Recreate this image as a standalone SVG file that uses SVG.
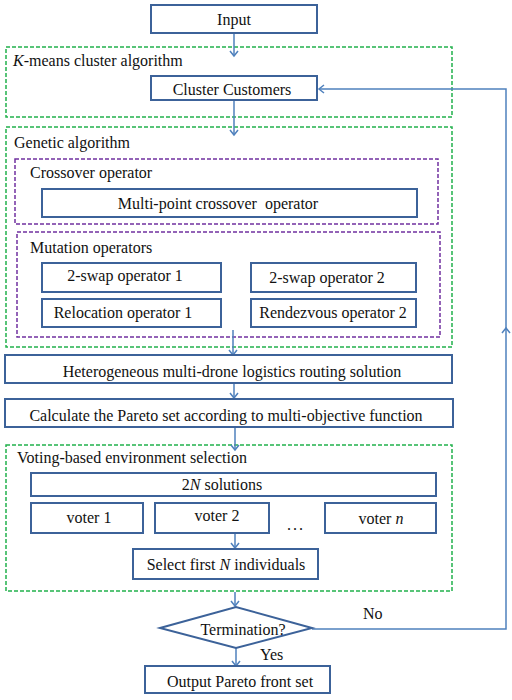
<svg xmlns="http://www.w3.org/2000/svg" width="512" height="700" viewBox="0 0 512 700" font-family="Liberation Serif, DejaVu Serif, serif" font-size="16">
<defs>
<marker id="ah" markerWidth="10" markerHeight="10" refX="6" refY="5" orient="auto" markerUnits="userSpaceOnUse">
<path d="M1,1 L6,5 L1,9" fill="none" stroke="#4F81BD" stroke-width="1.5"/>
</marker>
</defs>
<style>
.box{fill:#fff;stroke:#3C6299;stroke-width:2}
.grp{fill:none;stroke:#22B14C;stroke-width:1.5;stroke-dasharray:4 2}
.pgrp{fill:none;stroke:#7030A0;stroke-width:1.5;stroke-dasharray:4 2}
text{fill:#111}
.c{text-anchor:middle}
.con{fill:none;stroke:#4F81BD;stroke-width:1.5}
</style>
<rect width="512" height="700" fill="#fff"/>
<g id="groups">
<g id="kmeans"><rect class="grp" x="6" y="47" width="446" height="70"/><text x="13" y="66"><tspan font-style="italic">K</tspan>-means cluster algorithm</text></g>
<g id="genetic"><rect class="grp" x="6" y="127" width="446" height="220"/><text x="14" y="148">Genetic algorithm</text></g>
<g id="crossover"><rect class="pgrp" x="15" y="159" width="423" height="65"/><text x="30" y="178">Crossover operator</text></g>
<g id="mutation"><rect class="pgrp" x="17" y="232" width="423" height="105"/><text x="30" y="253">Mutation operators</text></g>
<g id="voting"><rect class="grp" x="6" y="445" width="446" height="146"/><text x="17" y="463">Voting-based environment selection</text></g>
</g>
<g id="connectors">
<line class="con" x1="234" y1="33" x2="234" y2="56" marker-end="url(#ah)"/>
<line class="con" x1="234" y1="100" x2="234" y2="135" marker-end="url(#ah)"/>
<line class="con" x1="233" y1="330" x2="233" y2="355" marker-end="url(#ah)"/>
<line class="con" x1="234" y1="376" x2="234" y2="398" marker-end="url(#ah)"/>
<line class="con" x1="235" y1="420" x2="235" y2="450" marker-end="url(#ah)"/>
<line class="con" x1="235" y1="533" x2="235" y2="548" marker-end="url(#ah)"/>
<line class="con" x1="235" y1="592" x2="235" y2="606" marker-end="url(#ah)"/>
<line class="con" x1="236" y1="648" x2="236" y2="666" marker-end="url(#ah)"/>
<polyline class="con" points="312,629 506,629 506,328" marker-end="url(#ah)"/>
<polyline class="con" points="506,330 506,89 319,89" marker-end="url(#ah)"/>
<text x="363" y="619">No</text>
<text x="260" y="660">Yes</text>
</g>
<g id="input"><rect class="box" x="151" y="5" width="166" height="28"/><text class="c" x="234" y="25">Input</text></g>
<g id="cluster"><rect class="box" x="151" y="76" width="166" height="24"/><text class="c" x="232" y="95">Cluster Customers</text></g>
<g id="multipoint"><rect class="box" x="42" y="189" width="375" height="28"/><text class="c" x="218" y="209" xml:space="preserve">Multi-point crossover  operator</text></g>
<g id="swap1"><rect class="box" x="42" y="263" width="179" height="29"/><text class="c" x="125" y="281">2-swap operator 1</text></g>
<g id="swap2"><rect class="box" x="251" y="263" width="165" height="29"/><text class="c" x="327" y="283">2-swap operator 2</text></g>
<g id="reloc"><rect class="box" x="42" y="299" width="179" height="28"/><text class="c" x="123" y="318">Relocation operator 1</text></g>
<g id="rendez"><rect class="box" x="251" y="299" width="165" height="28"/><text class="c" x="333" y="318">Rendezvous operator 2</text></g>
<g id="hetero"><rect class="box" x="5" y="355" width="447" height="28"/><text class="c" x="232" y="377">Heterogeneous multi-drone logistics routing solution</text></g>
<g id="pareto"><rect class="box" x="5" y="399" width="448" height="28"/><text class="c" x="226" y="421">Calculate the Pareto set according to multi-objective function</text></g>
<g id="sol2n"><rect class="box" x="31" y="473" width="405" height="23"/><text class="c" x="222" y="490">2<tspan font-style="italic">N</tspan> solutions</text></g>
<g id="voter1"><rect class="box" x="31" y="503" width="112" height="30"/><text class="c" x="89" y="523">voter 1</text></g>
<g id="voter2"><rect class="box" x="155" y="503" width="114" height="30"/><text class="c" x="217" y="521">voter 2</text></g>
<text x="287" y="530" letter-spacing="2">...</text>
<g id="votern"><rect class="box" x="325" y="503" width="111" height="30"/><text class="c" x="381" y="524">voter <tspan font-style="italic">n</tspan></text></g>
<g id="select"><rect class="box" x="133" y="549" width="185" height="30"/><text class="c" x="226" y="570">Select first <tspan font-style="italic">N</tspan> individuals</text></g>
<g id="termination"><polygon class="box" points="160,628 236,607 312,628 236,648"/><text class="c" x="243" y="635">Termination?</text></g>
<g id="output"><rect class="box" x="145" y="666" width="185" height="27"/><text class="c" x="240" y="687">Output Pareto front set</text></g>
</svg>
